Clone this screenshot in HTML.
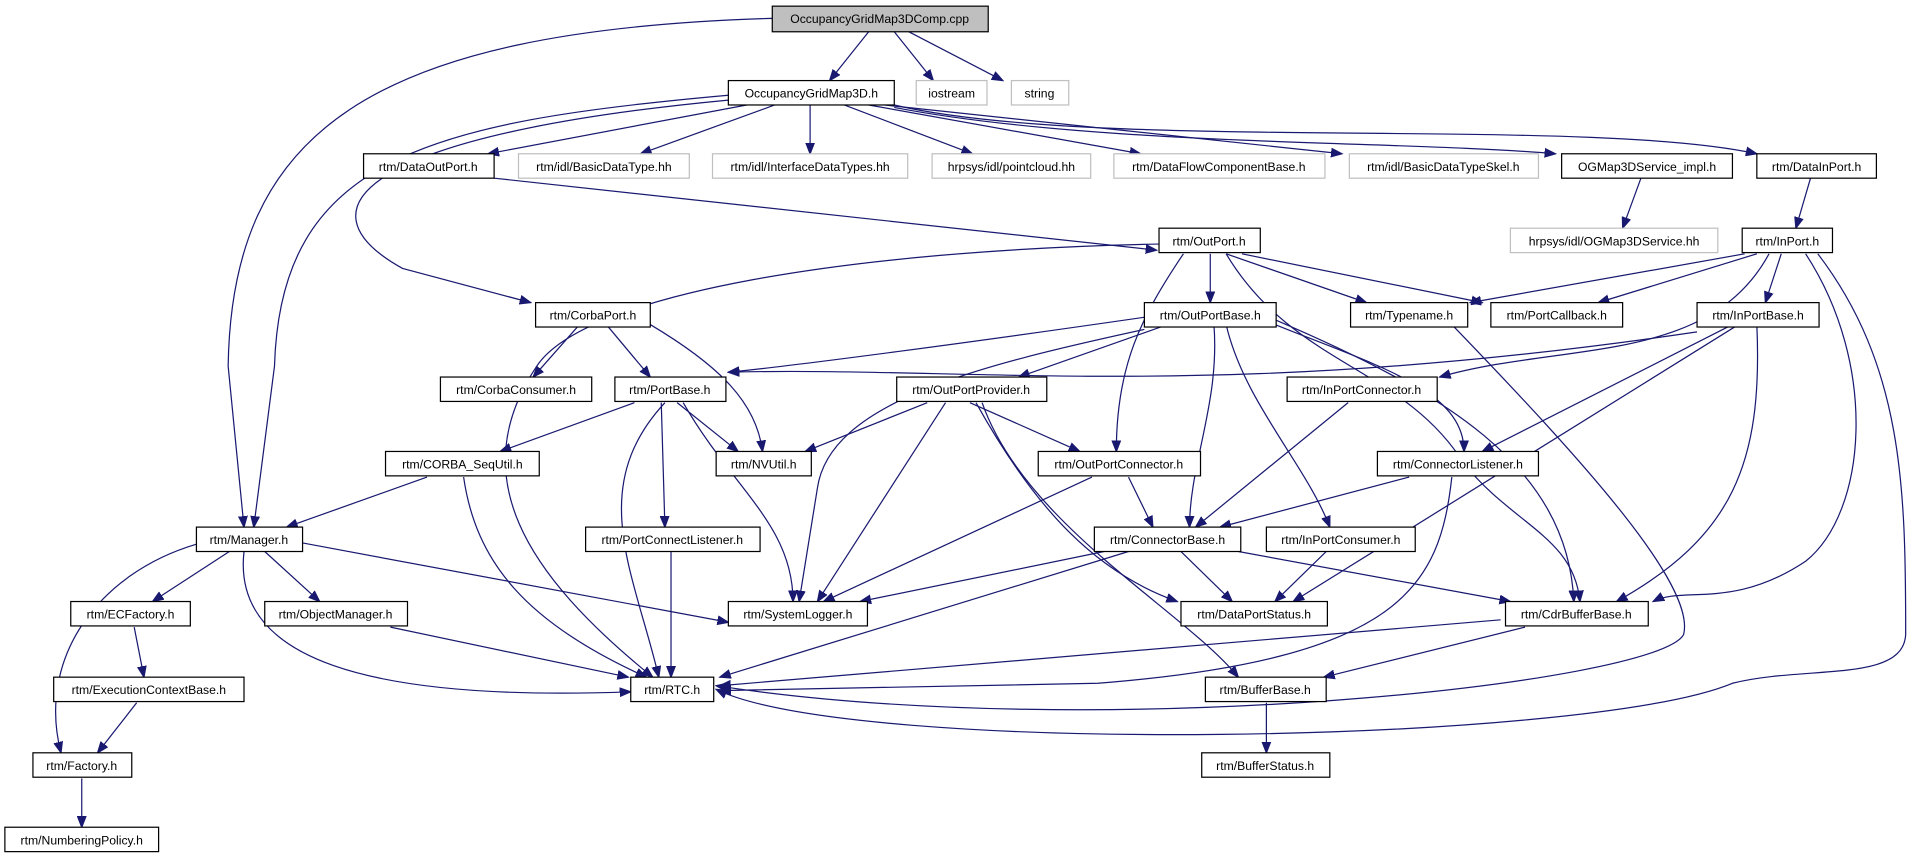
<!DOCTYPE html>
<html><head><meta charset="utf-8"><style>
html,body{margin:0;padding:0;background:#fff;}
svg{display:block}
text{font-family:"Liberation Sans",Helvetica,sans-serif;font-size:10px;text-anchor:middle;fill:#000}
.n{fill:#fff;stroke:#000;stroke-width:1}
.g{fill:#fff;stroke:#bfbfbf;stroke-width:1}
.c{fill:#bfbfbf;stroke:#000;stroke-width:1}
path{fill:none;stroke:#191970;stroke-width:1}
</style></head><body>
<svg width="1913" height="859" viewBox="0 0 1568 704" xmlns="http://www.w3.org/2000/svg">
<defs><marker id="a" markerWidth="10" markerHeight="8" refX="9" refY="4" orient="auto" markerUnits="userSpaceOnUse"><path d="M0,0.5 L9,4 L0,7.5 Z" style="fill:#191970;stroke:#191970"/></marker></defs>
<g marker-end="url(#a)">
<path d="M633,15 C300,25 190,110 187,300 L200,432"/>
<path d="M712,26 L680,66"/>
<path d="M733,26 L765,66"/>
<path d="M745,26 L822,66"/>
<path d="M612,86 L400,126"/>
<path d="M635,86 L525,126"/>
<path d="M664,86 L664,126"/>
<path d="M692,86 L797,126"/>
<path d="M712,86 L935,126"/>
<path d="M725,86 L1100,126"/>
<path d="M733,88 C900,120 1150,115 1275,126"/>
<path d="M733,86 C900,125 1300,95 1440,126"/>
<path d="M597,78 C350,100 230,130 225,300 L208,432"/>
<path d="M597,82 C300,110 240,170 330,220 L435,248"/>
<path d="M405,146 L948,205"/>
<path d="M1345,146 L1330,187"/>
<path d="M1484,146 L1472,187"/>
<path d="M950,200 C700,205 480,240 440,300 C380,390 430,470 535,555"/>
<path d="M992,208 L992,248"/>
<path d="M1005,208 L1120,248"/>
<path d="M1018,208 L1215,248"/>
<path d="M970,208 C935,260 915,300 915,370"/>
<path d="M1005,208 C1060,300 1150,300 1200,380 C1240,430 1290,440 1295,493"/>
<path d="M1430,208 L1205,248"/>
<path d="M1440,208 L1310,248"/>
<path d="M1460,208 L1447,248"/>
<path d="M1450,208 C1400,300 1280,280 1180,309"/>
<path d="M1480,208 C1540,300 1530,420 1480,460 C1420,500 1380,480 1355,493"/>
<path d="M1490,208 C1560,300 1562,400 1562,520 C1560,560 1480,545 1420,560 C1300,610 700,620 587,565"/>
<path d="M475,266 L437,309"/>
<path d="M497,266 L533,309"/>
<path d="M533,266 C590,300 620,330 625,370"/>
<path d="M938,260 C800,280 650,300 597,305"/>
<path d="M957,266 L835,309"/>
<path d="M938,270 C800,300 680,330 670,400 L655,493"/>
<path d="M995,266 C1000,330 975,380 975,432"/>
<path d="M1005,266 C1020,330 1070,380 1090,432"/>
<path d="M1045,266 C1130,300 1200,320 1200,370"/>
<path d="M1045,262 C1180,320 1285,380 1290,493"/>
<path d="M1391,272 C1000,330 800,300 597,305"/>
<path d="M1420,266 L1215,370"/>
<path d="M1425,266 L1060,493"/>
<path d="M1440,266 C1445,380 1420,440 1325,493"/>
<path d="M1190,266 C1300,380 1390,480 1380,520 C1360,560 900,610 587,562"/>
<path d="M1105,330 L980,432"/>
<path d="M520,330 L410,370"/>
<path d="M542,330 L545,432"/>
<path d="M555,330 L605,370"/>
<path d="M560,330 C600,400 650,430 650,493"/>
<path d="M545,330 C480,400 520,470 540,555"/>
<path d="M760,330 L660,370"/>
<path d="M795,330 L885,370"/>
<path d="M775,330 L670,493"/>
<path d="M800,330 C850,420 900,470 965,493"/>
<path d="M805,330 C840,430 970,500 1015,555"/>
<path d="M350,391 L235,432"/>
<path d="M380,391 C390,460 430,510 530,555"/>
<path d="M925,391 L945,432"/>
<path d="M895,391 L675,493"/>
<path d="M1155,391 L1000,432"/>
<path d="M1190,391 C1180,480 1150,540 900,560 L590,566"/>
<path d="M188,452 L125,493"/>
<path d="M217,452 L262,493"/>
<path d="M248,445 L597,510"/>
<path d="M200,452 C190,540 300,575 517,567"/>
<path d="M161,446 C80,470 30,540 50,617"/>
<path d="M550,452 L550,555"/>
<path d="M905,452 L705,493"/>
<path d="M968,452 L1010,493"/>
<path d="M1015,452 L1238,493"/>
<path d="M925,452 L590,555"/>
<path d="M1087,452 L1045,493"/>
<path d="M320,514 L515,555"/>
<path d="M110,514 L118,555"/>
<path d="M1230,508 L590,562"/>
<path d="M1250,514 L1085,555"/>
<path d="M112,576 L80,617"/>
<path d="M1038,576 L1038,617"/>
<path d="M67,638 L67,678"/>
</g>
<rect class="c" x="633" y="5" width="177" height="21"/><text x="721" y="19">OccupancyGridMap3DComp.cpp</text>
<rect class="n" x="597" y="66" width="136" height="20"/><text x="665" y="80">OccupancyGridMap3D.h</text>
<rect class="g" x="751" y="66" width="58" height="20"/><text x="780" y="80">iostream</text>
<rect class="g" x="829" y="66" width="47" height="20"/><text x="852" y="80">string</text>
<rect class="n" x="298" y="126" width="107" height="20"/><text x="351" y="140">rtm/DataOutPort.h</text>
<rect class="g" x="425" y="126" width="140" height="20"/><text x="495" y="140">rtm/idl/BasicDataType.hh</text>
<rect class="g" x="584" y="126" width="160" height="20"/><text x="664" y="140">rtm/idl/InterfaceDataTypes.hh</text>
<rect class="g" x="764" y="126" width="130" height="20"/><text x="829" y="140">hrpsys/idl/pointcloud.hh</text>
<rect class="g" x="913" y="126" width="173" height="20"/><text x="999" y="140">rtm/DataFlowComponentBase.h</text>
<rect class="g" x="1106" y="126" width="155" height="20"/><text x="1183" y="140">rtm/idl/BasicDataTypeSkel.h</text>
<rect class="n" x="1280" y="126" width="140" height="20"/><text x="1350" y="140">OGMap3DService_impl.h</text>
<rect class="n" x="1440" y="126" width="98" height="20"/><text x="1489" y="140">rtm/DataInPort.h</text>
<rect class="n" x="950" y="187" width="83" height="20"/><text x="991" y="201">rtm/OutPort.h</text>
<rect class="g" x="1238" y="187" width="170" height="20"/><text x="1323" y="201">hrpsys/idl/OGMap3DService.hh</text>
<rect class="n" x="1428" y="187" width="74" height="20"/><text x="1465" y="201">rtm/InPort.h</text>
<rect class="n" x="439" y="248" width="94" height="20"/><text x="486" y="262">rtm/CorbaPort.h</text>
<rect class="n" x="938" y="248" width="108" height="20"/><text x="992" y="262">rtm/OutPortBase.h</text>
<rect class="n" x="1107" y="248" width="96" height="20"/><text x="1155" y="262">rtm/Typename.h</text>
<rect class="n" x="1222" y="248" width="108" height="20"/><text x="1276" y="262">rtm/PortCallback.h</text>
<rect class="n" x="1391" y="248" width="100" height="20"/><text x="1441" y="262">rtm/InPortBase.h</text>
<rect class="n" x="361" y="309" width="124" height="20"/><text x="423" y="323">rtm/CorbaConsumer.h</text>
<rect class="n" x="504" y="309" width="91" height="20"/><text x="549" y="323">rtm/PortBase.h</text>
<rect class="n" x="735" y="309" width="123" height="20"/><text x="796" y="323">rtm/OutPortProvider.h</text>
<rect class="n" x="1055" y="309" width="123" height="20"/><text x="1116" y="323">rtm/InPortConnector.h</text>
<rect class="n" x="316" y="370" width="126" height="20"/><text x="379" y="384">rtm/CORBA_SeqUtil.h</text>
<rect class="n" x="587" y="370" width="78" height="20"/><text x="626" y="384">rtm/NVUtil.h</text>
<rect class="n" x="851" y="370" width="133" height="20"/><text x="917" y="384">rtm/OutPortConnector.h</text>
<rect class="n" x="1129" y="370" width="132" height="20"/><text x="1195" y="384">rtm/ConnectorListener.h</text>
<rect class="n" x="161" y="432" width="87" height="20"/><text x="204" y="446">rtm/Manager.h</text>
<rect class="n" x="480" y="432" width="143" height="20"/><text x="551" y="446">rtm/PortConnectListener.h</text>
<rect class="n" x="897" y="432" width="120" height="20"/><text x="957" y="446">rtm/ConnectorBase.h</text>
<rect class="n" x="1038" y="432" width="122" height="20"/><text x="1099" y="446">rtm/InPortConsumer.h</text>
<rect class="n" x="58" y="493" width="98" height="20"/><text x="107" y="507">rtm/ECFactory.h</text>
<rect class="n" x="217" y="493" width="117" height="20"/><text x="275" y="507">rtm/ObjectManager.h</text>
<rect class="n" x="597" y="493" width="114" height="20"/><text x="654" y="507">rtm/SystemLogger.h</text>
<rect class="n" x="968" y="493" width="120" height="20"/><text x="1028" y="507">rtm/DataPortStatus.h</text>
<rect class="n" x="1234" y="493" width="117" height="20"/><text x="1292" y="507">rtm/CdrBufferBase.h</text>
<rect class="n" x="44" y="555" width="156" height="20"/><text x="122" y="569">rtm/ExecutionContextBase.h</text>
<rect class="n" x="517" y="555" width="68" height="20"/><text x="551" y="569">rtm/RTC.h</text>
<rect class="n" x="988" y="555" width="99" height="20"/><text x="1037" y="569">rtm/BufferBase.h</text>
<rect class="n" x="27" y="617" width="81" height="20"/><text x="67" y="631">rtm/Factory.h</text>
<rect class="n" x="985" y="617" width="105" height="20"/><text x="1037" y="631">rtm/BufferStatus.h</text>
<rect class="n" x="4" y="678" width="126" height="20"/><text x="67" y="692">rtm/NumberingPolicy.h</text>
</svg>
</body></html>
